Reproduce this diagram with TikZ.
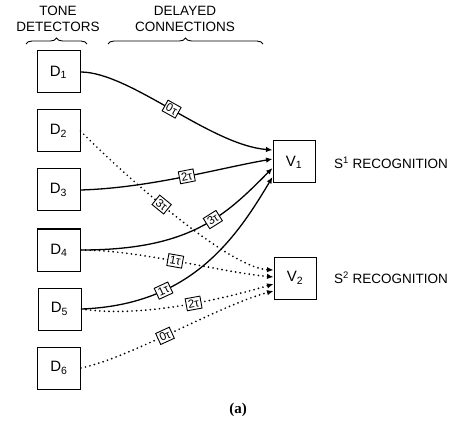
\documentclass[tikz,border=0pt]{standalone}
\usepackage{fontspec}
\setmainfont{Liberation Sans}
\newfontfamily\capserif{Liberation Serif}
\usetikzlibrary{arrows.meta,decorations.pathreplacing}
\begin{document}
\begin{tikzpicture}[x=1pt,y=-1pt,
  dbox/.style={draw,line width=1pt,minimum width=43pt,minimum height=42pt,inner sep=0pt,font=\fontsize{15}{17}\selectfont},
  vbox/.style={draw,line width=1pt,minimum width=42pt,minimum height=42pt,inner sep=0pt,font=\fontsize{15}{17}\selectfont},
  captext/.style={font=\fontsize{13.5}{15}\selectfont,align=center,inner sep=0pt},
  solidc/.style={line width=1.3pt,-{Latex[length=6.5pt,width=5.5pt]}},
  dotc/.style={line width=1.9pt,dash pattern=on 0pt off 4.6pt,line cap=round,-{Latex[length=6.5pt,width=5.5pt]}},
  lbl/.style={draw,solid,line width=0.9pt,fill=white,inner sep=2pt,sloped,font=\fontsize{11.5}{12}\selectfont},
  brc/.style={decorate,decoration={brace,amplitude=6pt},line width=0.9pt}
]
\useasboundingbox (0,0) rectangle (455,422);

% headers
\node[captext] (th) at (58,19) {TONE\\[1pt]DETECTORS};
\node[captext] (dh) at (185,19) {DELAYED\\[1pt]CONNECTIONS};
\coordinate (b1l) at (26,44); \coordinate (b1r) at (87,44);
\coordinate (b2l) at (108,44); \coordinate (b2r) at (263,44);
\draw[brc] (b1l) -- (b1r);
\draw[brc] (b2l) -- (b2r);

% detectors
\node[dbox] (D1) at (58.5,72) {D\textsubscript{1}};
\node[dbox] (D2) at (58.5,131) {D\textsubscript{2}};
\node[dbox] (D3) at (58.5,190) {D\textsubscript{3}};
\node[dbox] (D4) at (59,250) {D\textsubscript{4}};
\node[dbox] (D5) at (59.5,309) {D\textsubscript{5}};
\node[dbox] (D6) at (59,368) {D\textsubscript{6}};

% recognizers
\node[vbox] (V1) at (294,162) {V\textsubscript{1}};
\node[vbox] (V2) at (295,278) {V\textsubscript{2}};
\node[captext,anchor=west] (S1) at (334,163) {S\textsuperscript{1} RECOGNITION};
\node[captext,anchor=west] (S2) at (334,278) {S\textsuperscript{2} RECOGNITION};

% solid connections to V1
\draw[solidc] (D1.east) .. controls (130,72) and (210,145) .. node[lbl,pos=0.5] {0τ} ([yshift=12pt]V1.west);
\draw[solidc] (D3.east) .. controls (150,188) and (220,168) .. node[lbl,pos=0.52] {2τ} ([yshift=3pt]V1.west);
\draw[solidc] (D4.east) .. controls (190,250) and (225,216) .. node[lbl,pos=0.58] {3τ} ([yshift=-6pt]V1.west);
\draw[solidc] (D5.east) .. controls (190,305) and (235,240) .. node[lbl,pos=0.3] {1τ} ([yshift=-15pt]V1.west);

% dotted connections to V2
\draw[dotc] (D2.east) .. controls (130,181) and (230,268) .. node[lbl,pos=0.42] {3τ} ([yshift=8pt]V2.west);
\draw[dotc] (D4.east) .. controls (140,250) and (220,272) .. node[lbl,pos=0.48] {1τ} ([yshift=1pt]V2.west);
\draw[dotc] (D5.east) .. controls (140,318) and (220,300) .. node[lbl,pos=0.57] {2τ} ([yshift=-6pt]V2.west);
\draw[dotc] (D6.east) .. controls (130,358) and (220,305) .. node[lbl,pos=0.45] {0τ} ([yshift=-13pt]V2.west);

% caption
\node[font=\capserif\bfseries\fontsize{15}{17}\selectfont,inner sep=0pt] (capa) at (238,410) {(a)};
\end{tikzpicture}
\end{document}
